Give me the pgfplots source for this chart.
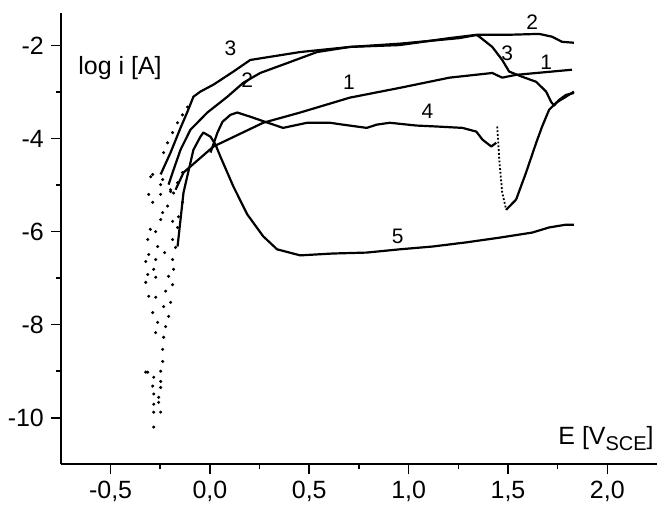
\documentclass[border=0pt]{standalone}
\usepackage{fontspec}
\setmainfont{Liberation Sans}
\usepackage{pgfplots}
\pgfplotsset{compat=1.18}
\pgfplotsset{curve/.style={black, solid, mark=none, line width=1.1pt, line join=round}}
\begin{document}
\begin{tikzpicture}
\begin{axis}[
    name=ax,
    scale only axis,
    width=298.5pt, height=226pt,
    xmin=-0.75, xmax=2.25,
    ymin=-11, ymax=-1.3,
    axis lines*=left,
    axis line style={line width=1pt, -},
    xtick={-0.5,0,0.5,1,1.5,2},
    ytick={-10,-8,-6,-4,-2},
    minor x tick num=1, minor y tick num=1,
    tick align=outside,
    major tick length=5pt, minor tick length=2.5pt,
    tick style={line width=0.8pt, black},
    /pgf/number format/assume math mode=true,
    xticklabel style={/pgf/number format/.cd, fixed, fixed zerofill, precision=1, use comma},
    yticklabel style={/pgf/number format/.cd, fixed, precision=0},
    tick label style={font=\fontsize{12.5}{15}\selectfont},
    clip=false,
]
% cathodic branches (scattered points)
\addplot[black, only marks, mark=*, mark size=0.55pt] coordinates {
    (-0.298,-4.82) (-0.238,-4.88) (-0.308,-5.20) (-0.248,-5.20) (-0.288,-5.37)
    (-0.238,-5.59) (-0.248,-5.74) (-0.273,-6.00) (-0.313,-6.17) (-0.263,-6.32)
    (-0.308,-6.49) (-0.273,-6.60) (-0.323,-6.64) (-0.283,-6.81) (-0.313,-6.92)
    (-0.273,-6.98) (-0.323,-7.09) (-0.308,-7.39) (-0.273,-7.41) (-0.288,-7.74)
    (-0.233,-7.61) (-0.138,-4.73) (-0.163,-4.95) (-0.198,-5.14) (-0.138,-5.37)
    (-0.158,-5.68) (-0.188,-5.78) (-0.163,-5.91) (-0.188,-6.17) (-0.173,-6.34)
    (-0.188,-6.60) (-0.183,-6.81) (-0.208,-6.96) (-0.188,-7.14) (-0.223,-7.28)
    (-0.198,-7.52) (-0.208,-7.82) (-0.263,-7.95) (-0.223,-8.04) (-0.273,-8.17)
    (-0.233,-8.27) (-0.238,-8.53) (-0.238,-8.79) (-0.248,-9.00) (-0.313,-9.02)
    (-0.283,-9.13) (-0.323,-9.02) (-0.248,-9.22) (-0.288,-9.32) (-0.248,-9.35)
    (-0.283,-9.49) (-0.258,-9.56) (-0.258,-9.67) (-0.283,-9.71) (-0.283,-9.88)
    (-0.248,-9.88) (-0.283,-10.20) (-0.288,-4.77) (-0.233,-4.30) (-0.213,-4.09)
    (-0.188,-3.87) (-0.163,-3.66) (-0.138,-3.49) (-0.113,-3.32) (-0.248,-4.99)
    (-0.198,-5.10) (-0.183,-5.17) (-0.213,-5.45) (-0.228,-6.45) (-0.300,-5.95)
};
% curve 1
\addplot[curve] coordinates {
    (-0.173,-5.10) (-0.133,-4.73) (0.018,-4.17) (0.268,-3.66) (0.454,-3.44)
    (0.704,-3.12) (0.955,-2.91) (1.206,-2.69) (1.421,-2.59) (1.471,-2.69)
    (1.541,-2.63) (1.822,-2.52)
};
% curve 2
\addplot[curve] coordinates {
    (-0.208,-4.99) (-0.183,-4.67) (-0.148,-4.24) (-0.098,-3.81) (-0.013,-3.44)
    (0.088,-3.10) (0.168,-2.80) (0.253,-2.59) (0.368,-2.41) (0.539,-2.14)
    (0.704,-2.03) (0.955,-1.96) (1.156,-1.88) (1.256,-1.84) (1.346,-1.77)
    (1.406,-1.77) (1.491,-1.77) (1.657,-1.75) (1.722,-1.81) (1.772,-1.92)
    (1.832,-1.94)
};
% curve 3
\addplot[curve] coordinates {
    (-0.248,-4.77) (-0.198,-4.30) (-0.148,-3.77) (-0.113,-3.42) (-0.083,-3.10)
    (-0.048,-2.99) (0.018,-2.84) (0.118,-2.56) (0.203,-2.31) (0.454,-2.14)
    (0.704,-2.03) (0.955,-1.99) (1.206,-1.84) (1.341,-1.77) (1.356,-1.81)
    (1.421,-2.03) (1.471,-2.31) (1.506,-2.56) (1.571,-2.67) (1.642,-2.78)
    (1.692,-2.99) (1.717,-3.21) (1.732,-3.29) (1.757,-3.17) (1.792,-3.06)
    (1.832,-3.02)
};
% curve 4
\addplot[curve] coordinates {
    (0.003,-4.30) (0.038,-3.87) (0.063,-3.64) (0.103,-3.49) (0.138,-3.44)
    (0.203,-3.53) (0.278,-3.64) (0.368,-3.77) (0.489,-3.66) (0.604,-3.66)
    (0.669,-3.70) (0.789,-3.77) (0.840,-3.70) (0.905,-3.66) (1.040,-3.72)
    (1.140,-3.74) (1.271,-3.77) (1.341,-3.85) (1.371,-4.02) (1.416,-4.17)
    (1.441,-4.09)
};
\addplot[black, line width=0.9pt, densely dotted] coordinates {
    (1.446,-3.74) (1.456,-4.45) (1.471,-5.16) (1.491,-5.53)
};
\addplot[curve] coordinates {
    (1.491,-5.53) (1.541,-5.31) (1.591,-4.73) (1.642,-4.09) (1.672,-3.74)
    (1.707,-3.38) (1.742,-3.23) (1.792,-3.10) (1.832,-2.99)
};
% curve 5
\addplot[curve] coordinates {
    (-0.163,-6.32) (-0.133,-5.16) (-0.083,-4.24) (-0.048,-3.96) (-0.033,-3.87)
    (0.003,-3.96) (0.028,-4.13) (0.053,-4.39) (0.118,-5.03) (0.188,-5.63)
    (0.268,-6.10) (0.338,-6.38) (0.454,-6.51) (0.619,-6.47) (0.789,-6.45)
    (0.955,-6.38) (1.120,-6.32) (1.291,-6.23) (1.456,-6.13) (1.622,-6.02)
    (1.707,-5.91) (1.792,-5.85) (1.832,-5.85)
};
% curve numbers
\begin{scope}[every node/.style={font=\fontsize{10.5}{12}\selectfont, inner sep=0pt}]
\node at (axis cs:0.103,-2.05) {3};
\node at (axis cs:0.188,-2.74) {2};
\node at (axis cs:1.622,-1.49) {2};
\node at (axis cs:1.496,-2.16) {3};
\node at (axis cs:0.700,-2.78) {1};
\node at (axis cs:1.692,-2.37) {1};
\node at (axis cs:1.095,-3.42) {4};
\node at (axis cs:0.945,-6.11) {5};
\end{scope}
% axis titles
\node[anchor=base west, inner sep=0pt, font=\fontsize{12.5}{15}\selectfont]
    at (axis cs:-0.664,-2.63) {log i [A]};
\node[anchor=base east, inner sep=0pt, font=\fontsize{12.5}{15}\selectfont]
    at (axis cs:2.235,-10.57) {E [V\raisebox{-0.45ex}{\fontsize{10}{12}\selectfont SCE}]};
\end{axis}
\pgfresetboundingbox
\path[use as bounding box] ([xshift=-30.5pt,yshift=-20pt]ax.south west)
    rectangle ([xshift=0.5pt,yshift=6.5pt]ax.north east);
\end{tikzpicture}
\end{document}
